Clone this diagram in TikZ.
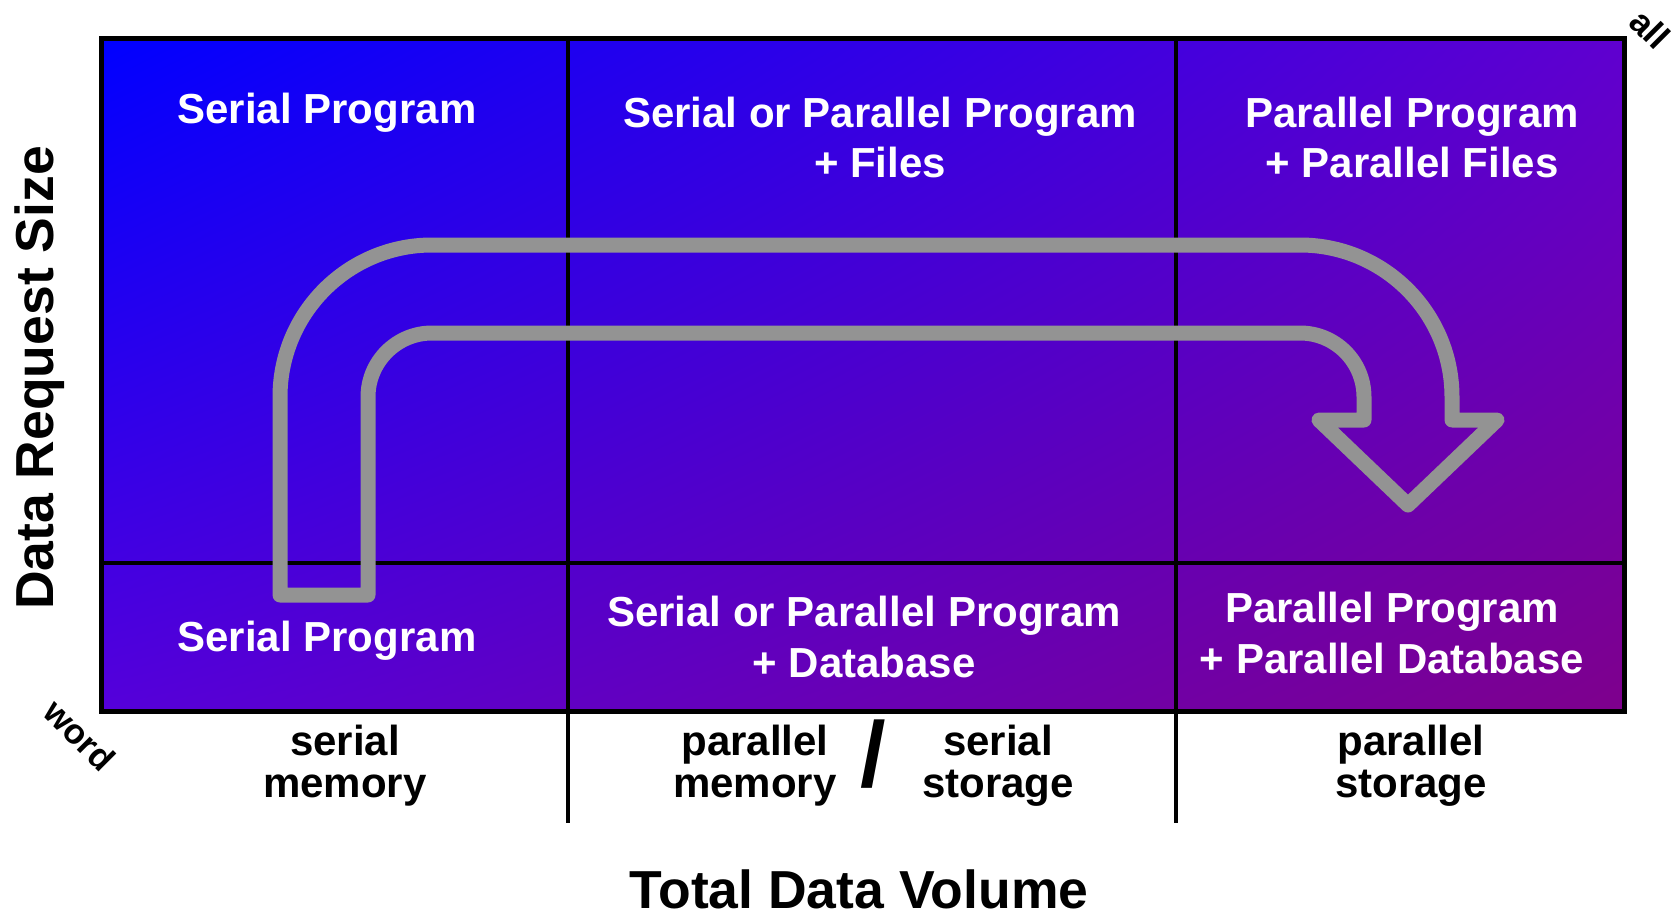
\documentclass[tikz,border=0pt]{standalone}
\usepackage{fontspec}
\setmainfont{Liberation Sans}
\usetikzlibrary{shadings}

\definecolor{cornerTL}{RGB}{0,0,255}
\definecolor{cornerTR}{RGB}{95,0,208}
\definecolor{cornerBL}{RGB}{85,0,218}
\definecolor{cornerBR}{RGB}{126,0,140}
\definecolor{arrowgray}{RGB}{147,147,147}

\tikzset{
  celltext/.style={text=white, inner sep=0pt, align=center, anchor=base,
    font=\fontsize{42}{51}\selectfont\bfseries},
  axistext/.style={inner sep=0pt, align=center, anchor=base,
    font=\fontsize{42}{41.5}\selectfont\bfseries},
  titletext/.style={inner sep=0pt, anchor=base,
    font=\fontsize{53.5}{60}\selectfont\bfseries},
  endtext/.style={inner sep=0pt, rotate=-45,
    font=\fontsize{35}{40}\selectfont\bfseries},
  frame/.style={line width=5pt},
  grid/.style={line width=4pt},
  bigarrow/.style={draw=arrowgray, line width=15pt, line join=round}
}

\begin{document}
\begin{tikzpicture}[x=1pt, y=-1pt]
\useasboundingbox (0,0) rectangle (1671,915);

% Background
\coordinate (tl) at (101,39);
\coordinate (br) at (1624,711);
\shade[upper left=cornerTL, upper right=cornerTR, lower left=cornerBL,
  lower right=cornerBR] (tl) rectangle (br);

% Grid
\draw[grid] (568,39) -- (568,823);
\draw[grid] (1176,39) -- (1176,823);
\draw[grid] (101,563) -- (1624,563);
\draw[frame] (tl) rectangle (br);

% Arrow
\draw[bigarrow] (280,595) -- (280,397) arc(180:270:152) -- (1300,245)
  arc(270:360:152) -- (1452,420) -- (1497,420) -- (1408,505) -- (1319,420)
  -- (1364,420) -- (1364,397) arc(0:-90:64) -- (432,333) arc(270:180:64)
  -- (368,595) -- cycle;

% Cell labels (base = last line)
\node[celltext] (serialtop) at (327,124) {Serial Program};
\node[celltext] (mixedfiles) at (880,178) {Serial or Parallel Program\\+ Files};
\node[celltext] (parfiles) at (1412,178) {Parallel Program\\+ Parallel Files};
\node[celltext] (serialbot) at (327,651) {Serial Program};
\node[celltext] (mixeddb) at (864,677) {Serial or Parallel Program\\+ Database};
\node[celltext] (pardb) at (1392,673) {Parallel Program\\+ Parallel Database};

% Axis labels
\node[axistext] (sermem) at (345,797) {serial\\memory};
\node[axistext] (parmem) at (755,797) {parallel\\memory};
\node[inner sep=0pt, font=\fontsize{92}{92}\selectfont\bfseries] (slash) at (873,754) {/};
\node[axistext] (serstor) at (998,797) {serial\\storage};
\node[axistext] (parstor) at (1411,797) {parallel\\storage};
\node[titletext] (xtitle) at (859,908) {Total Data Volume};
\node[titletext, rotate=90] (ytitle) at (53,378) {Data Request Size};
\node[endtext] (word) at (80,735) {word};
\node[endtext] (all) at (1650,29) {all};
\end{tikzpicture}
\end{document}
